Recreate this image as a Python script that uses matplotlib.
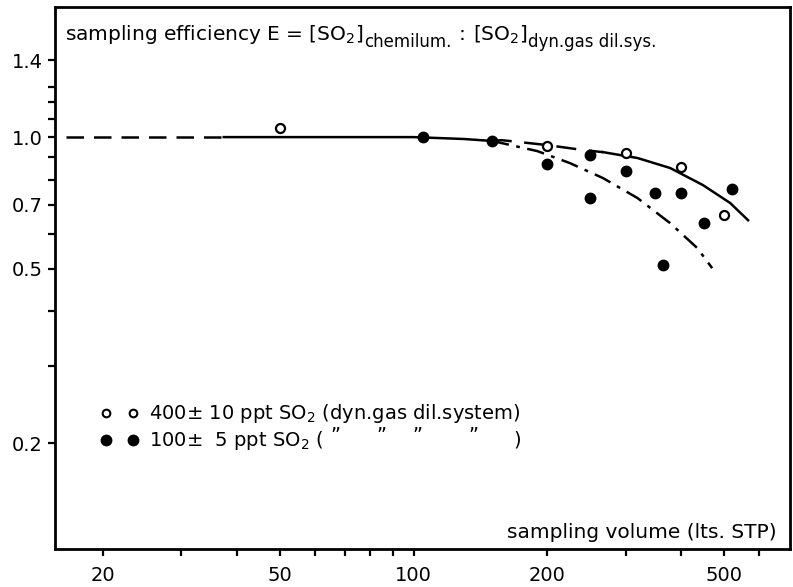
import matplotlib
matplotlib.use("Agg")
import matplotlib.pyplot as plt
from matplotlib.ticker import FixedLocator, FixedFormatter
from matplotlib.transforms import IdentityTransform

plt.rcParams["font.family"] = "DejaVu Sans"
plt.rcParams["mathtext.default"] = "regular"

# sampling volume (lts STP) vs. sampling efficiency E
open_volume = [50, 200, 300, 400, 500]          # 400 +- 10 ppt SO2
open_eff = [1.05, 0.955, 0.92, 0.855, 0.665]

filled_volume = [105, 150, 200, 250, 250, 300, 350, 365, 400, 450, 520]   # 100 +- 5 ppt SO2
filled_eff = [1.0, 0.98, 0.87, 0.91, 0.725, 0.835, 0.745, 0.51, 0.745, 0.635, 0.76]

# fitted curves
extrap_volume = [16.5, 37.4]
extrap_eff = [1.0, 1.0]
common_volume = [37.4, 60, 100, 130, 150]
common_eff = [1.0, 1.0, 1.0, 0.99, 0.98]
upper_dash_volume = [150, 158, 200, 241, 267]
upper_dash_eff = [0.98, 0.984, 0.959, 0.934, 0.924]
upper_volume = [267, 319, 378, 448, 516, 566]
upper_eff = [0.924, 0.896, 0.850, 0.777, 0.707, 0.646]
lower_volume = [150, 158, 190, 225, 267, 319, 378, 435, 470]
lower_eff = [0.98, 0.969, 0.929, 0.872, 0.806, 0.726, 0.636, 0.558, 0.502]

x_ticks = [20, 30, 40, 50, 60, 70, 80, 90, 100, 200, 300, 400, 500, 600]
x_labels = ["20", "", "", "50", "", "", "", "", "100", "200", "", "", "500", ""]
y_ticks = [0.2, 0.3, 0.4, 0.5, 0.6, 0.7, 0.8, 0.9, 1.0, 1.1, 1.2, 1.3, 1.5]
y_labels = ["0.2", "", "", "0.5", "", "0.7", "", "", "1.0", "", "", "", "1.4"]


def text_run(ax, x, y, pieces):
    """Write (text, size, dy, gap) pieces one after another, dy/gap in pixels."""
    renderer = ax.figure.canvas.get_renderer()
    px, py = ax.transAxes.transform((x, y))
    for s, size, dy, gap in pieces:
        t = ax.text(px, py + dy, s, fontsize=size, transform=IdentityTransform(),
                    va="baseline", ha="left")
        px = t.get_window_extent(renderer).x1 + gap


fig = plt.figure(figsize=(7.93, 5.87), dpi=100)
ax = fig.add_axes([0.0694, 0.0647, 0.927, 0.923])
ax.set_xscale("log")
ax.set_yscale("log")
ax.set_xlim(15.6, 704)
ax.set_ylim(0.1146, 1.98)

lw = 1.8
ax.plot(extrap_volume, extrap_eff, color="black", lw=lw, dashes=(7, 4))
ax.plot(common_volume, common_eff, color="black", lw=lw)
ax.plot(upper_dash_volume, upper_dash_eff, color="black", lw=lw, dashes=(8, 5))
ax.plot(upper_volume, upper_eff, color="black", lw=lw)
ax.plot(lower_volume, lower_eff, color="black", lw=lw, dashes=(7, 3, 1.5, 3))

ax.plot(open_volume, open_eff, "o", ms=6.5, mfc="white", mec="black", mew=1.6)
ax.plot(filled_volume, filled_eff, "o", ms=7.5, color="black")

ax.xaxis.set_major_locator(FixedLocator(x_ticks))
ax.xaxis.set_major_formatter(FixedFormatter(x_labels))
ax.xaxis.set_minor_locator(FixedLocator([]))
ax.yaxis.set_major_locator(FixedLocator(y_ticks))
ax.yaxis.set_major_formatter(FixedFormatter(y_labels))
ax.yaxis.set_minor_locator(FixedLocator([]))
ax.tick_params(axis="both", direction="out", length=5, width=1.6, labelsize=14)
ax.tick_params(axis="x", pad=7)
ax.tick_params(axis="y", pad=4)
for s in ax.spines.values():
    s.set_linewidth(2)

text_run(ax, 0.0136, 0.939, [
    (r"sampling efficiency E = [SO$_2$]", 14.5, 0, 1),
    ("chemilum.", 12, -7, 7),
    (":", 14.5, 0, 7),
    (r"[SO$_2$]", 14.5, 0, 1),
    ("dyn.gas dil.sys.", 12, -7, 0),
])
ax.text(0.982, 0.02, "sampling volume (lts. STP)", transform=ax.transAxes,
        fontsize=14.5, va="baseline", ha="right")

# key
for y, face, size in [(0.251, "white", 5.5), (0.201, "black", 7)]:
    ax.plot([0.069, 0.106], [y, y], "o", ms=size, mfc=face, mec="black", mew=1.5,
            transform=ax.transAxes, clip_on=False)
ax.text(0.128, 0.251, r"400$\pm$ 10 ppt SO$_2$ (dyn.gas dil.system)", transform=ax.transAxes,
        fontsize=14, va="center", ha="left")
ax.text(0.128, 0.201, r"100$\pm$  5 ppt SO$_2$ (", transform=ax.transAxes,
        fontsize=14, va="center", ha="left")
for xd in [0.382, 0.444, 0.493, 0.569]:
    ax.text(xd, 0.21, "\u201d", transform=ax.transAxes, fontsize=14, va="center", ha="center")
ax.text(0.629, 0.201, ")", transform=ax.transAxes, fontsize=14, va="center", ha="center")

fig.savefig("out.png", dpi=100)
